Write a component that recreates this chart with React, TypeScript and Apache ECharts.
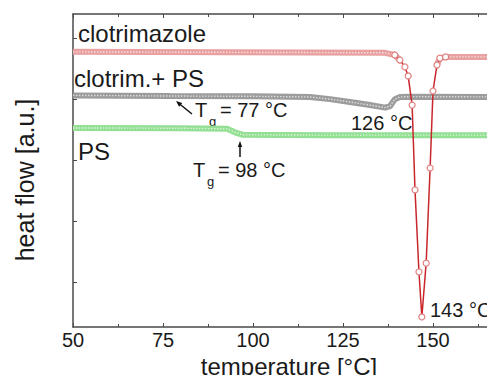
import { useEffect, useRef } from "react";
import * as echarts from "echarts";

// clotrimazole (red, with melting peak)
const redTemps = [50, 136.7, 139.4, 140.8, 142.2, 143.1, 144.2, 145.0, 146.1, 146.9, 148.1, 149.2, 150.0, 151.1, 151.9, 153.5, 170];
const redFlow = [87.9, 87.6, 86.9, 85.3, 83.1, 80.2, 70.9, 43.8, 17.6, 3.2, 20.4, 50.8, 75.4, 83.7, 85.9, 86.3, 86.3];
// clotrim. + PS (gray)
const grayTemps = [50, 77, 100, 115.8, 121.4, 126.9, 132.5, 136.7, 138.1, 139.4, 140.8, 143.6, 170];
const grayFlow = [74.0, 73.8, 73.7, 73.5, 72.8, 71.9, 70.9, 70.1, 70.6, 72.8, 73.5, 73.6, 73.5];
// PS (green)
const greenTemps = [50, 80, 92.8, 95, 97.2, 120, 170];
const greenFlow = [63.6, 63.5, 63.3, 62.2, 61.4, 61.3, 61.3];
// left axis tick positions (arbitrary units)
const yTicks = [14.4, 33.9, 53.4, 72.8, 92.3];

const FONT = '"Liberation Sans", Arial, sans-serif';
const TXT = "#1a1a1a";

function pairs(t: number[], v: number[]) {
  return t.map((x, i) => [x, v[i]]);
}

function band(name: string, data: number[][], color: string) {
  return [
    {
      type: "line",
      name,
      data,
      symbol: "none",
      silent: true,
      z: 2,
      lineStyle: { color, width: 6 },
    },
    {
      type: "line",
      name: name + " texture",
      data,
      symbol: "none",
      silent: true,
      z: 3,
      lineStyle: { color: "#ffffff", width: 1.4, type: [1.5, 1.5], opacity: 0.65 },
    },
  ];
}

function txt(x: number, y: number, text: string, size: number) {
  return {
    type: "text",
    x,
    y,
    style: {
      text,
      font: `${size}px ${FONT}`,
      fill: TXT,
      align: "left",
      verticalAlign: "middle",
      textAlign: "left",
      textVerticalAlign: "middle",
    },
  };
}

export default function App() {
  const ref = useRef<HTMLDivElement>(null);
  useEffect(() => {
    if (!ref.current) return;
    const chart = echarts.init(ref.current, undefined, { renderer: "svg" });
    const red = pairs(redTemps, redFlow);
    const redLeft = red.filter((p) => p[0] <= 141);
    const redRight = red.filter((p) => p[0] >= 151);
    const redDip = red.filter((p) => p[0] >= 139 && p[0] <= 154);
    const gray = pairs(grayTemps, grayFlow);
    const green = pairs(greenTemps, greenFlow);

    const axisLine = { show: true, lineStyle: { color: "#4a4a4a", width: 1.5 } };
    const xCommon = {
      type: "value",
      min: 50,
      max: 170,
      interval: 25,
      splitLine: { show: false },
      axisLine,
      axisTick: { show: true, inside: true, length: 4, lineStyle: { color: "#4a4a4a", width: 1 } },
      minorTick: { show: true, splitNumber: 2, length: 3, lineStyle: { color: "#4a4a4a", width: 1 } },
    };

    chart.setOption({
      animation: false,
      backgroundColor: "#ffffff",
      grid: { left: 73, right: -10, top: 14, bottom: 56, containLabel: false, outerBoundsMode: "none" },
      xAxis: [
        {
          ...xCommon,
          position: "bottom",
          name: "temperature [°C]",
          nameLocation: "middle",
          nameGap: 27,
          nameMoveOverlap: false,
          nameTextStyle: { fontFamily: FONT, fontSize: 24, color: TXT, verticalAlign: "top", lineHeight: 24 },
          axisLabel: { show: true, margin: 3, fontFamily: FONT, fontSize: 20, lineHeight: 20, color: TXT, showMaxLabel: false },
        },
        {
          ...xCommon,
          position: "top",
          axisLabel: { show: false },
        },
      ],
      yAxis: {
        type: "value",
        min: 0,
        max: 100,
        axisLine,
        splitLine: { show: false },
        axisLabel: { show: false },
        axisTick: {
          show: true,
          inside: true,
          length: 4,
          customValues: yTicks,
          lineStyle: { color: "#4a4a4a", width: 1 },
        },
      },
      series: [
        ...band("PS", green, "#93df93"),
        ...band("clotrim.+ PS", gray, "#9c9c9c"),
        ...band("clotrimazole", redLeft, "#e8a0a0"),
        ...band("clotrimazole right", redRight, "#e8a0a0"),
        {
          type: "line",
          name: "clotrimazole peak",
          data: redDip,
          z: 5,
          symbol: "circle",
          symbolSize: 6,
          lineStyle: { color: "#c8262a", width: 1.5 },
          itemStyle: { color: "#ffffff", borderColor: "#e08080", borderWidth: 1.2 },
        },
      ],
      graphic: [
        {
          type: "text",
          x: 25,
          y: 180,
          rotation: Math.PI / 2,
          style: {
            text: "heat flow [a.u.]",
            font: `25px ${FONT}`,
            fill: TXT,
            align: "center",
            verticalAlign: "middle",
            textAlign: "center",
            textVerticalAlign: "middle",
          },
        },
        txt(78, 33.6, "clotrimazole", 24),
        txt(74, 78.6, "clotrim.+ PS", 24),
        txt(78, 151.6, "PS", 24),
        txt(351, 123, "126 °C", 20),
        txt(430, 310, "143 °C", 20),
        // Tg = 77 °C
        txt(195, 110, "T", 20),
        txt(209, 121, "g", 13),
        txt(220, 110, "= 77 °C", 20),
        { type: "line", shape: { x1: 192, y1: 114, x2: 179, y2: 103.5 }, style: { stroke: "#111", lineWidth: 1.5 } },
        { type: "polygon", shape: { points: [[176, 101], [179.1, 106.7], [182.3, 102.9]] }, style: { fill: "#111" } },
        // Tg = 98 °C
        txt(193, 170, "T", 20),
        txt(207, 181, "g", 13),
        txt(218, 170, "= 98 °C", 20),
        { type: "line", shape: { x1: 240, y1: 157, x2: 240, y2: 145 }, style: { stroke: "#111", lineWidth: 1.5 } },
        { type: "polygon", shape: { points: [[240, 141], [237.8, 147], [242.2, 147]] }, style: { fill: "#111" } },
      ],
    });
    return () => chart.dispose();
  }, []);
  return <div ref={ref} style={{ width: 495, height: 383, margin: -8 }} />;
}
